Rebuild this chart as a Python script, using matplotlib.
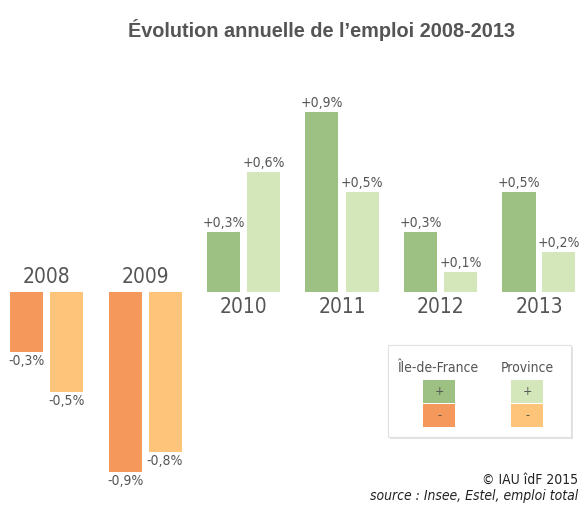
import matplotlib.pyplot as plt
from matplotlib.patches import Rectangle, FancyBboxPatch

# Données : évolution annuelle de l'emploi (%)
annees = ['2008', '2009', '2010', '2011', '2012', '2013']
idf = [-0.3, -0.9, 0.3, 0.9, 0.3, 0.5]
province = [-0.5, -0.8, 0.6, 0.5, 0.1, 0.2]

vert_idf, vert_prov = '#9dc183', '#d3e7bb'
orange_idf, orange_prov = '#f4985b', '#fec57a'
gris = '#555555'
police = dict(family='DejaVu Sans', stretch='condensed', weight='light')

W, H = 580, 505
fig = plt.figure(figsize=(W / 100, H / 100), dpi=100)
ax = fig.add_axes([0, 0, 1, 1])

# échelle : 98.5 px par groupe, 200 px par point de %, zéro à y=292 px
pas, ppp, y0, x0 = 98.5, 200.0, 292.0, 46.5
ax.set_xlim(-x0 / pas, (W - x0) / pas)
ax.set_ylim(-(H - y0) / ppp, y0 / ppp)
ax.axis('off')

larg = 33 / pas
dec = 20 / pas


def fmt(v):
    return ('+' if v > 0 else '') + f'{v:.1f}'.replace('.', ',') + '%'


for i, an in enumerate(annees):
    for v, dx, cp, cn in [(idf[i], -dec, vert_idf, orange_idf),
                          (province[i], dec, vert_prov, orange_prov)]:
        ax.bar(i + dx, v, width=larg, color=cp if v > 0 else cn)
        off = 0.012 if v > 0 else -0.012
        ax.text(i + dx, v + off, fmt(v), ha='center',
                va='bottom' if v > 0 else 'top',
                fontsize=10, color=gris, **police)
    pos = idf[i] > 0
    ax.text(i, -0.025 if pos else 0.025, an, ha='center',
            va='top' if pos else 'bottom', fontsize=15, color=gris, **police)

# titre
fig.text(322 / W, 1 - 30 / H, 'Évolution annuelle de l’emploi 2008-2013',
         ha='center', va='center', fontsize=14.3, fontweight='bold',
         color=gris, family='Liberation Sans')

# légende
def px(x, y):
    return x / W, 1 - y / H

ombre = FancyBboxPatch(px(390, 439), 183 / W, 92 / H, boxstyle='square,pad=0',
                       transform=fig.transFigure, facecolor='#e4e4e4',
                       edgecolor='none')
boite = FancyBboxPatch(px(388, 437), 183 / W, 92 / H, boxstyle='square,pad=0',
                       transform=fig.transFigure, facecolor='white',
                       edgecolor='#e0e0e0', linewidth=0.8)
fig.patches.extend([ombre, boite])
for xc, nom, cp, cn in [(439, 'Île-de-France', vert_idf, orange_idf),
                        (527, 'Province', vert_prov, orange_prov)]:
    fig.text(*px(xc, 368), nom, ha='center', va='center', fontsize=10,
             color=gris, **police)
    for yb, c, s in [(403, cp, '+'), (427, cn, '-')]:
        fig.patches.append(Rectangle(px(xc - 16, yb), 32 / W, 23 / H,
                                     transform=fig.transFigure, facecolor=c,
                                     edgecolor='none'))
        fig.text(*px(xc, yb - 11.5), s, ha='center', va='center', fontsize=9,
                 color=gris, **police)

# crédits
fig.text(*px(578, 480), '© IAU îdF 2015', ha='right', va='center',
         fontsize=10, color='#222222', **police)
fig.text(*px(578, 496), 'source : Insee, Estel, emploi total', ha='right',
         va='center', fontsize=10, style='italic', color='#222222', **police)

fig.savefig('out.png', dpi=100, facecolor='white')
